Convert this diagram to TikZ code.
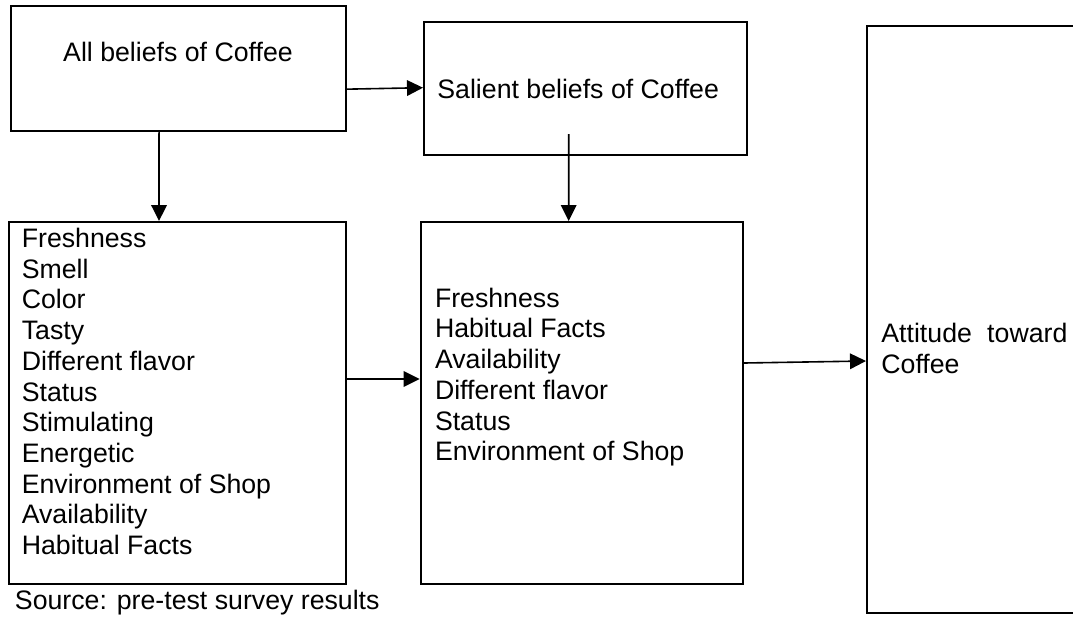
\documentclass[tikz,border=0pt]{standalone}
\usepackage{fontspec}
\setmainfont{Liberation Sans}
\usetikzlibrary{arrows.meta, positioning}

\begin{document}
\begin{tikzpicture}[
    x=0.5pt, y=-0.5pt,
    n/.style={rectangle, draw, line width=1pt, inner sep=0pt},
    t/.style={inner sep=0pt, align=left, font=\fontsize{13.35}{15.35}\selectfont},
    a/.style={-{Triangle[length=8pt, width=7.8pt]}, line width=0.8pt},
]
\useasboundingbox (0,0) rectangle (1073,617);
\clip (0,0) rectangle (1073,617);
\node[n, minimum width=167.75pt, minimum height=62.65pt] (all) at (178.25,68.35) {};
\node[n, minimum width=161.5pt, minimum height=66.5pt] (sal) at (585.5,88.5) {};
\node[n, minimum width=168.7pt, minimum height=181pt] (alllist) at (177.3,403) {};
\node[n, minimum width=161.2pt, minimum height=181pt] (sallist) at (581.8,403) {};
\node[n, minimum width=109pt, minimum height=293.5pt] (att) at (976,319.5) {};
\node[t] (allt) at (178,52) {All beliefs of Coffee};
\node[t, anchor=west] (salt) at ([xshift=7pt]sal.west) {Salient beliefs of Coffee};
\node[t, anchor=north west] (alllistt) at ([xshift=6.9pt, yshift=-3.4pt]alllist.north west) {Freshness\\Smell\\Color\\Tasty\\Different flavor\\Status\\Stimulating\\Energetic\\Environment of Shop\\Availability\\Habitual Facts};
\node[t, anchor=north west] (sallistt) at ([xshift=7.5pt, yshift=-33.25pt]sallist.north west) {Freshness\\Habitual Facts\\Availability\\Different flavor\\Status\\Environment of Shop};
\node[t, anchor=north west, text width=93pt] (attt) at ([xshift=7.5pt, yshift=-148.9pt]att.north west) {Attitude\hfill toward\\Coffee};
\node[t, anchor=base west] (src) at ([xshift=3.5pt, yshift=-12pt]alllist.south west) {Source: pre-test survey results};
\draw[a] ([yshift=-10.4pt]all.east) -- ([yshift=0.4pt]sal.west);
\draw[a] ([xshift=-9.6pt]all.south) -- ([xshift=-9.15pt]alllist.north);
\draw[a] ([xshift=-8.4pt, yshift=11pt]sal.south) -- ([xshift=-6.55pt]sallist.north);
\draw[a] ([yshift=12pt]alllist.east) -- ([yshift=12pt]sallist.west);
\draw[a] ([yshift=20pt]sallist.east) -- ([yshift=-20.75pt]att.west);
\end{tikzpicture}
\end{document}
